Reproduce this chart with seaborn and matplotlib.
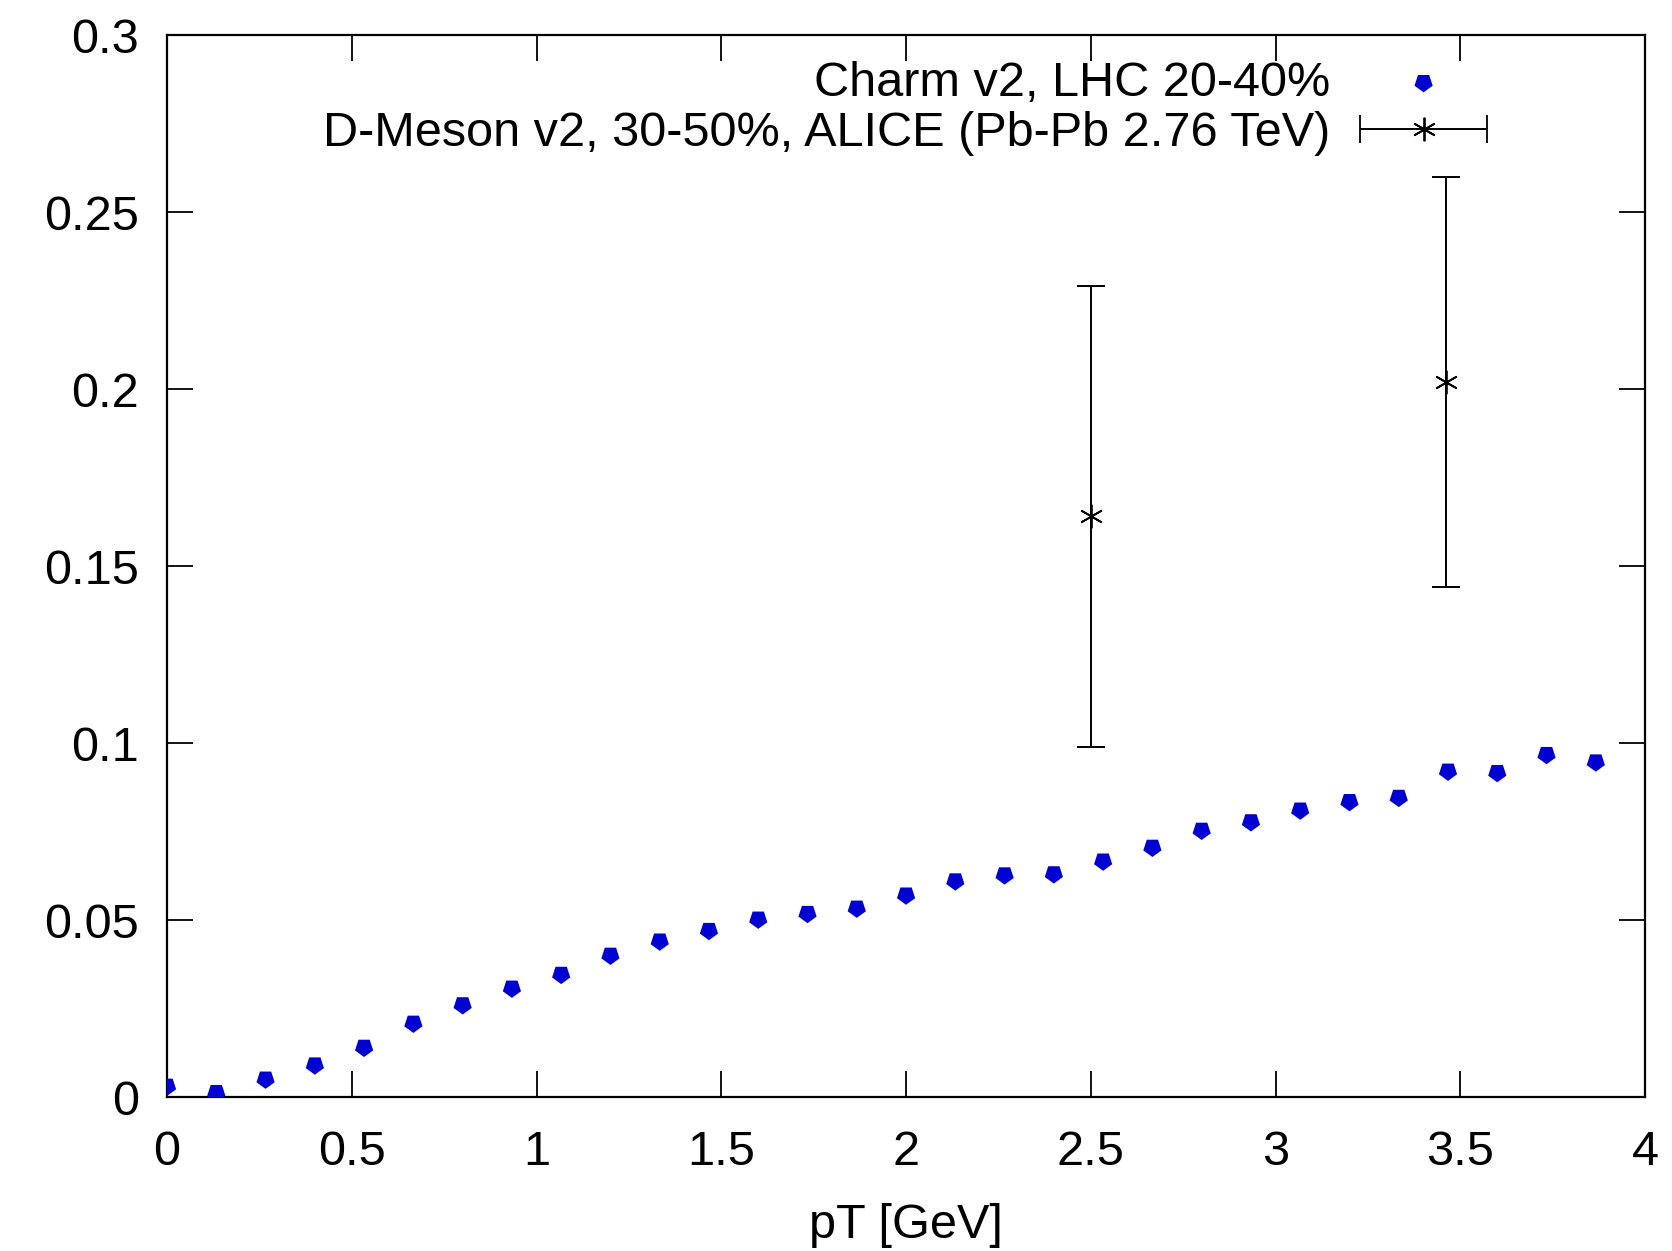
import numpy as np
import pandas as pd
import matplotlib
matplotlib.use("Agg")
import matplotlib.pyplot as plt
import seaborn as sns
from matplotlib.container import ErrorbarContainer
from matplotlib.legend_handler import HandlerErrorbar
from matplotlib.ticker import FuncFormatter

# ---- data ----
charm_pt = [i * 4 / 30 for i in range(30)]
charm_v2 = [0.003, 0.0012, 0.005, 0.009, 0.014, 0.0208, 0.026, 0.0307, 0.0346, 0.040,
            0.044, 0.0470, 0.0502, 0.0518, 0.0533, 0.057, 0.061, 0.0627, 0.063, 0.0666,
            0.0705, 0.0753, 0.0777, 0.081, 0.0834, 0.0846, 0.092, 0.0916, 0.0967, 0.0946]
dmeson_pt = [2.5, 3.46]
dmeson_v2 = [0.164, 0.202]
dmeson_lo = [0.099, 0.144]
dmeson_hi = [0.229, 0.260]
charm_label = "Charm v2, LHC 20-40%"
dmeson_label = "D-Meson v2, 30-50%, ALICE (Pb-Pb 2.76 TeV)"
x_ticks = [0, 0.5, 1, 1.5, 2, 2.5, 3, 3.5, 4]
y_ticks = [0, 0.05, 0.1, 0.15, 0.2, 0.25, 0.3]

sns.set_theme(style="white")
plt.rcParams['font.family'] = ['Liberation Sans', 'DejaVu Sans']
plt.rcParams['text.color'] = 'black'
plt.rcParams['axes.labelcolor'] = 'black'
plt.rcParams['xtick.color'] = 'black'
plt.rcParams['ytick.color'] = 'black'

FS = 35

fig = plt.figure(figsize=(16.72, 12.51), dpi=100)
ax = fig.add_axes([0.0999, 0.1231, 0.8840, 0.8489])

df = pd.DataFrame({"pt": charm_pt, "v2": charm_v2})
sns.scatterplot(data=df, x="pt", y="v2", ax=ax, marker=(5, 0, 180), s=190,
                color="#0000d0", edgecolor="none", linewidth=0, label=charm_label,
                legend=False, zorder=3)

yerr = [np.array(dmeson_v2) - np.array(dmeson_lo), np.array(dmeson_hi) - np.array(dmeson_v2)]
ax.errorbar(dmeson_pt, dmeson_v2, yerr=yerr, fmt="none", ecolor="black",
            elinewidth=1.4, capsize=10, capthick=1.4, zorder=2)
ax.plot(dmeson_pt, dmeson_v2, linestyle="none", marker=(6, 2, 0), markersize=17,
        markeredgewidth=1.3, color="black", zorder=4)

# proxy for legend (horizontal error bar with asterisk)
proxy = ax.errorbar([np.nan], [np.nan], xerr=[1.0], marker=(6, 2, 0), markersize=17,
                    markeredgewidth=1.3, color="black", ecolor="black",
                    elinewidth=1.4, capsize=10, capthick=1.4, linestyle="none")

ax.set_xlim(0, 4)
ax.set_ylim(0, 0.3)
ax.set_xticks(x_ticks)
ax.set_yticks(y_ticks)
fmt = FuncFormatter(lambda v, p: f"{v:g}")
ax.xaxis.set_major_formatter(fmt)
ax.yaxis.set_major_formatter(fmt)
ax.tick_params(axis="both", which="major", direction="in", length=19, width=1.3,
               color="black", labelcolor="black", labelsize=FS,
               top=True, right=True, bottom=True, left=True)
ax.tick_params(axis="x", pad=24)
ax.tick_params(axis="y", pad=20)
for s in ax.spines.values():
    s.set_color("black")
    s.set_linewidth(1.6)
ax.set_xlabel("pT [GeV]", fontsize=FS, labelpad=20, color="black")
ax.set_ylabel("")
ax.grid(False)

handles = [ax.collections[0], proxy]
leg = ax.legend(handles, [charm_label, dmeson_label], loc="upper right",
                bbox_to_anchor=(0.8934, 0.976), frameon=False, fontsize=FS, markerfirst=False,
                handlelength=2.63, handletextpad=0.6, labelspacing=0.11, borderaxespad=0.0,
                borderpad=0.0,
                handler_map={ErrorbarContainer: HandlerErrorbar(xerr_size=1.3)})
for t in leg.get_texts():
    t.set_ha("right")
    t.set_color("black")

fig.savefig("out.png", dpi=100, facecolor="white")
